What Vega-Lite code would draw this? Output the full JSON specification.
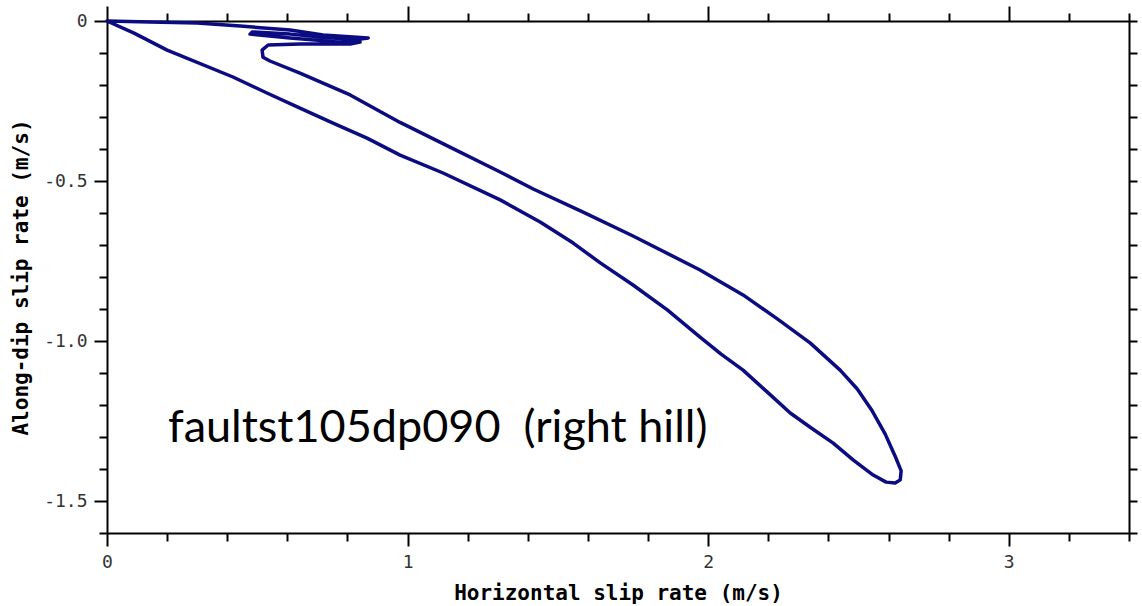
{
  "$schema": "https://vega.github.io/schema/vega-lite/v6.json",
  "autosize": {"type": "none"},
  "padding": {"left": 107, "top": 21, "right": 13, "bottom": 73},
  "width": 1022,
  "height": 512,
  "background": "white",
  "config": {"view": {"stroke": null}},
  "datasets": {
    "path": [
      {"i": 0, "h": 0, "v": 0},
      {"i": 1, "h": 0.143, "v": -0.003},
      {"i": 2, "h": 0.3, "v": -0.006},
      {"i": 3, "h": 0.443, "v": -0.016},
      {"i": 4, "h": 0.609, "v": -0.028},
      {"i": 5, "h": 0.719, "v": -0.044},
      {"i": 6, "h": 0.869, "v": -0.053},
      {"i": 7, "h": 0.825, "v": -0.059},
      {"i": 8, "h": 0.709, "v": -0.05},
      {"i": 9, "h": 0.609, "v": -0.041},
      {"i": 10, "h": 0.483, "v": -0.034},
      {"i": 11, "h": 0.476, "v": -0.041},
      {"i": 12, "h": 0.609, "v": -0.053},
      {"i": 13, "h": 0.775, "v": -0.066},
      {"i": 14, "h": 0.842, "v": -0.066},
      {"i": 15, "h": 0.809, "v": -0.072},
      {"i": 16, "h": 0.642, "v": -0.072},
      {"i": 17, "h": 0.536, "v": -0.075},
      {"i": 18, "h": 0.516, "v": -0.091},
      {"i": 19, "h": 0.519, "v": -0.113},
      {"i": 20, "h": 0.542, "v": -0.125},
      {"i": 21, "h": 0.642, "v": -0.163},
      {"i": 22, "h": 0.809, "v": -0.231},
      {"i": 23, "h": 0.975, "v": -0.317},
      {"i": 24, "h": 1.141, "v": -0.394},
      {"i": 25, "h": 1.308, "v": -0.472},
      {"i": 26, "h": 1.418, "v": -0.525},
      {"i": 27, "h": 1.584, "v": -0.597},
      {"i": 28, "h": 1.75, "v": -0.672},
      {"i": 29, "h": 1.973, "v": -0.778},
      {"i": 30, "h": 2.116, "v": -0.856},
      {"i": 31, "h": 2.23, "v": -0.931},
      {"i": 32, "h": 2.339, "v": -1.006},
      {"i": 33, "h": 2.439, "v": -1.091},
      {"i": 34, "h": 2.496, "v": -1.15},
      {"i": 35, "h": 2.546, "v": -1.219},
      {"i": 36, "h": 2.589, "v": -1.291},
      {"i": 37, "h": 2.622, "v": -1.36},
      {"i": 38, "h": 2.642, "v": -1.406},
      {"i": 39, "h": 2.639, "v": -1.434},
      {"i": 40, "h": 2.622, "v": -1.444},
      {"i": 41, "h": 2.592, "v": -1.441},
      {"i": 42, "h": 2.549, "v": -1.419},
      {"i": 43, "h": 2.483, "v": -1.372},
      {"i": 44, "h": 2.416, "v": -1.319},
      {"i": 45, "h": 2.343, "v": -1.272},
      {"i": 46, "h": 2.273, "v": -1.225},
      {"i": 47, "h": 2.196, "v": -1.159},
      {"i": 48, "h": 2.116, "v": -1.091},
      {"i": 49, "h": 2.043, "v": -1.041},
      {"i": 50, "h": 1.973, "v": -0.988},
      {"i": 51, "h": 1.864, "v": -0.903},
      {"i": 52, "h": 1.75, "v": -0.825},
      {"i": 53, "h": 1.641, "v": -0.756},
      {"i": 54, "h": 1.551, "v": -0.694},
      {"i": 55, "h": 1.441, "v": -0.628},
      {"i": 56, "h": 1.308, "v": -0.559},
      {"i": 57, "h": 1.118, "v": -0.475},
      {"i": 58, "h": 0.975, "v": -0.419},
      {"i": 59, "h": 0.865, "v": -0.366},
      {"i": 60, "h": 0.752, "v": -0.319},
      {"i": 61, "h": 0.642, "v": -0.272},
      {"i": 62, "h": 0.532, "v": -0.225},
      {"i": 63, "h": 0.419, "v": -0.175},
      {"i": 64, "h": 0.2, "v": -0.091},
      {"i": 65, "h": 0.09, "v": -0.038},
      {"i": 66, "h": 0, "v": 0}
    ],
    "note": [
      {"h": 0.203, "v": -1.316, "label": "faultst105dp090 \u00a0(right hill)"}
    ]
  },
  "layer": [
    {
      "data": {"name": "path"},
      "mark": {"type": "line", "color": "#0b0b82", "strokeWidth": 3.5, "strokeJoin": "round", "strokeCap": "round"},
      "encoding": {
        "x": {
          "field": "h", "type": "quantitative",
          "scale": {"domain": [0, 3.4], "nice": false, "zero": false},
          "axis": {
            "orient": "bottom",
            "values": [0, 0.2, 0.4, 0.6, 0.8, 1, 1.2, 1.4, 1.6, 1.8, 2, 2.2, 2.4, 2.6, 2.8, 3, 3.2, 3.4],
            "tickSize": {"condition": {"test": "abs(datum.value - round(datum.value)) < 0.001", "value": 13}, "value": 8},
            "labelExpr": "abs(datum.value - round(datum.value)) < 0.001 ? format(datum.value, 'd') : ''",
            "grid": false,
            "domainColor": "black", "domainWidth": 2,
            "tickColor": "black", "tickWidth": 2,
            "labelFont": "DejaVu Sans Mono", "labelFontSize": 18, "labelColor": "#333333",
            "labelFlush": false, "labelOverlap": false, "labelPadding": 7,
            "title": "Horizontal slip rate (m/s)",
            "titleFont": "DejaVu Sans Mono", "titleFontSize": 21, "titleFontWeight": "bold", "titleColor": "black",
            "titleY": 66, "titleBaseline": "alphabetic"
          }
        },
        "y": {
          "field": "v", "type": "quantitative",
          "scale": {"domain": [-1.6, 0], "nice": false, "zero": false},
          "axis": {
            "orient": "left",
            "values": [0, -0.1, -0.2, -0.3, -0.4, -0.5, -0.6, -0.7, -0.8, -0.9, -1, -1.1, -1.2, -1.3, -1.4, -1.5, -1.6],
            "tickSize": {"condition": {"test": "abs(datum.value * 2 - round(datum.value * 2)) < 0.001", "value": 13}, "value": 8},
            "labelExpr": "abs(datum.value * 2 - round(datum.value * 2)) < 0.001 && datum.value > -1.55 ? (datum.value == 0 ? '0' : replace(format(datum.value, '.1f'), '\u2212', '-')) : ''",
            "grid": false,
            "domainColor": "black", "domainWidth": 2,
            "tickColor": "black", "tickWidth": 2,
            "labelFont": "DejaVu Sans Mono", "labelFontSize": 18, "labelColor": "#333333",
            "labelFlush": false, "labelOverlap": false, "labelPadding": 7,
            "title": "Along-dip slip rate (m/s)",
            "titleFont": "DejaVu Sans Mono", "titleFontSize": 21, "titleFontWeight": "bold", "titleColor": "black",
            "titleX": -80, "titleBaseline": "alphabetic"
          }
        },
        "order": {"field": "i", "type": "quantitative"}
      }
    },
    {
      "data": {"name": "path"},
      "mark": {"type": "line", "opacity": 0},
      "encoding": {
        "x": {
          "field": "h", "type": "quantitative",
          "axis": {
            "orient": "top",
            "values": [0, 0.2, 0.4, 0.6, 0.8, 1, 1.2, 1.4, 1.6, 1.8, 2, 2.2, 2.4, 2.6, 2.8, 3, 3.2, 3.4],
            "tickSize": {"condition": {"test": "abs(datum.value - round(datum.value)) < 0.001", "value": 15}, "value": 8},
            "labels": false, "grid": false, "title": null,
            "domainColor": "black", "domainWidth": 2,
            "tickColor": "black", "tickWidth": 2
          }
        },
        "y": {
          "field": "v", "type": "quantitative",
          "axis": {
            "orient": "right",
            "values": [0, -0.1, -0.2, -0.3, -0.4, -0.5, -0.6, -0.7, -0.8, -0.9, -1, -1.1, -1.2, -1.3, -1.4, -1.5, -1.6],
            "tickSize": 8,
            "labels": false, "grid": false, "title": null,
            "domainColor": "black", "domainWidth": 2,
            "tickColor": "black", "tickWidth": 2
          }
        },
        "order": {"field": "i", "type": "quantitative"}
      }
    },
    {
      "data": {"name": "note"},
      "mark": {"type": "text", "align": "left", "baseline": "alphabetic", "font": "Lato", "fontSize": 45, "color": "black"},
      "encoding": {
        "x": {"field": "h", "type": "quantitative", "axis": null},
        "y": {"field": "v", "type": "quantitative", "axis": null},
        "text": {"field": "label"}
      }
    }
  ],
  "resolve": {"axis": {"x": "independent", "y": "independent"}}
}
